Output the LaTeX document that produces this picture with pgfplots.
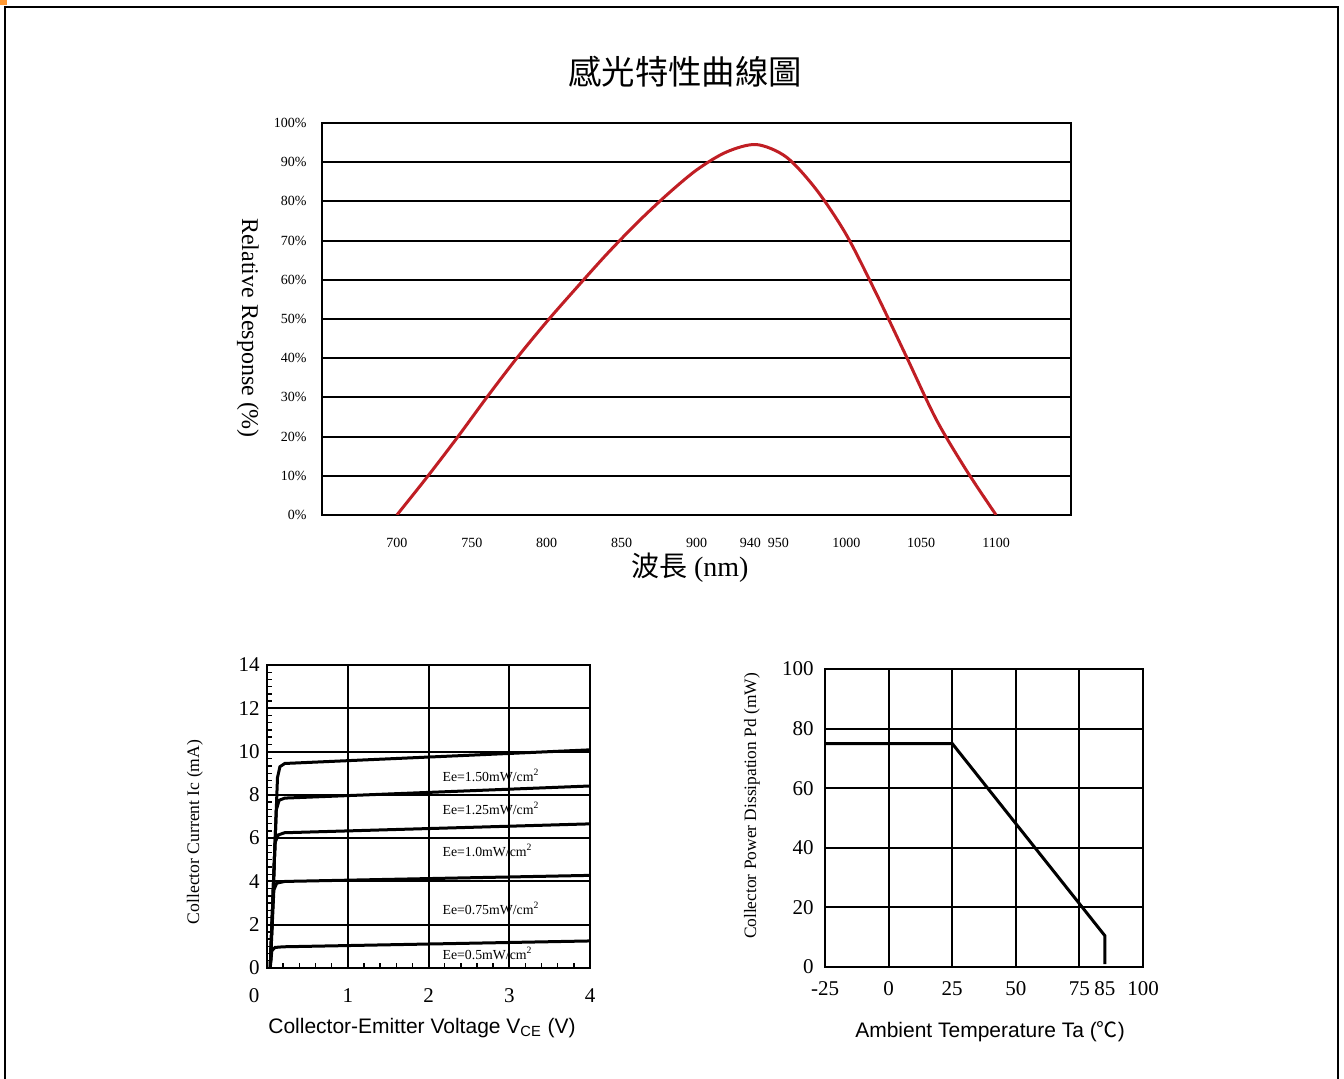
\documentclass[border=0pt]{standalone}
\usepackage{pgfplots}
\pgfplotsset{compat=1.18}
\usepackage{fontspec}
\setmainfont{Liberation Serif}
\newfontfamily\cjk{Noto Sans CJK TC}
\newfontfamily\arial{Liberation Sans}
\definecolor{curvered}{RGB}{192,30,36}
\begin{document}
\begin{tikzpicture}
\useasboundingbox (0,0) rectangle (672pt,-539.5pt);
\fill[orange!80] (0,0) rectangle (3.5pt,-2.5pt);
\draw[line width=1pt] (2.4pt,-540pt) -- (2.4pt,-3.4pt) -- (668.8pt,-3.4pt) -- (668.8pt,-540pt);

% ---------------- top chart ----------------
\begin{axis}[
  at={(161pt,-257.5pt)}, anchor=south west, scale only axis,
  width=374.5pt, height=196pt,
  xmin=650, xmax=1150, ymin=0, ymax=100,
  axis line style={line width=1.2pt},
  ymajorgrids, grid style={line width=1pt, black},
  xtick={700,750,800,850,900,940,950,1000,1050,1100},
  xticklabels={700,750,800,850,900,\kern-3pt940\kern3pt,\kern3.5pt950\kern-3.5pt,1000,1050,1100},
  ytick={0,10,20,30,40,50,60,70,80,90,100},
  yticklabels={0\%,10\%,20\%,30\%,40\%,50\%,60\%,70\%,80\%,90\%,100\%},
  major tick length=0pt,
  /pgf/number format/assume math mode=true,
  tick label style={font=\fontsize{7}{8}\selectfont},
  xticklabel style={anchor=center, yshift=-14pt},
  yticklabel style={anchor=east, inner sep=0pt, xshift=-7.5pt},
  title={\cjk 感光特性曲線圖},
  title style={at={(axis description cs:0.485,1.10)}, anchor=center, font=\fontsize{16.7}{19}\selectfont},
  xlabel={{\cjk 波長} (nm)},
  xlabel style={at={(axis description cs:0.491,-0.135)}, anchor=center, font=\fontsize{14}{16}\selectfont},
  ylabel={Relative Response (\%)},
  ylabel style={at={(axis description cs:-0.0988,0.477)}, anchor=center, rotate=180, font=\fontsize{12}{14}\selectfont},
]
\addplot[curvered, line width=1.5pt, smooth] coordinates {
 (700,0) (720,9.6) (740,19.6) (760,30) (780,40) (800,49.3) (820,58) (840,66.5)
 (860,74.4) (880,81.6) (900,88) (920,92.6) (940,94.5) (960,91.3) (980,83)
 (1000,71.5) (1020,56.5) (1040,40.5) (1060,24.4) (1080,11.5) (1100,0)
};
\end{axis}

% ---------------- bottom-left chart ----------------
\begin{axis}[
  at={(133.5pt,-484pt)}, anchor=south west, scale only axis,
  width=161.5pt, height=151.5pt,
  xmin=0, xmax=4, ymin=0, ymax=14,
  xtick={0,1,2,3,4},
  xticklabels={\kern-6.5pt0\kern6.5pt,1,2,3,4},
  ytick={0,2,4,6,8,10,12,14},
  grid=major, grid style={line width=1pt, black},
  axis line style={line width=1.4pt},
  minor x tick num=4, minor y tick num=5,
  major tick length=0pt, minor tick length=2.5pt,
  minor tick style={line width=0.7pt, black},
  tick align=inside, xtick pos=bottom, ytick pos=left,
  /pgf/number format/assume math mode=true,
  tick label style={font=\fontsize{10.5}{12}\selectfont},
  xticklabel style={anchor=center, yshift=-14pt},
  yticklabel style={anchor=east, inner sep=0pt, xshift=-3.5pt},
  xlabel={\arial Collector-Emitter Voltage V\textsubscript{CE} (V)},
  xlabel style={at={(axis description cs:0.48,-0.198)}, anchor=center, font=\fontsize{10.5}{12}\selectfont},
  ylabel={Collector Current Ic (mA)},
  ylabel style={at={(axis description cs:-0.223,0.449)}, anchor=center, font=\fontsize{8.8}{10}\selectfont},
]
\addplot[black, line width=1.5pt] coordinates {(0.04,0) (0.13,8.8) (0.16,9.3) (0.22,9.45) (4,10.08)};
\addplot[black, line width=1.5pt] coordinates {(0.04,0) (0.115,7.3) (0.15,7.75) (0.22,7.85) (4,8.41)};
\addplot[black, line width=1.5pt] coordinates {(0.04,0) (0.10,5.8) (0.14,6.15) (0.22,6.25) (4,6.66)};
\addplot[black, line width=1.5pt] coordinates {(0.04,0) (0.085,3.6) (0.12,3.92) (0.22,4.0) (4,4.28)};
\addplot[black, line width=1.5pt] coordinates {(0.04,0) (0.06,0.8) (0.1,0.95) (0.2,0.98) (4,1.25)};
\node[anchor=west, inner sep=0pt, font=\fontsize{6.9}{8}\selectfont] at (axis cs:2.17,8.92) {Ee=1.50mW/cm\textsuperscript{2}};
\node[anchor=west, inner sep=0pt, font=\fontsize{6.9}{8}\selectfont] at (axis cs:2.17,7.39) {Ee=1.25mW/cm\textsuperscript{2}};
\node[anchor=west, inner sep=0pt, font=\fontsize{6.9}{8}\selectfont] at (axis cs:2.17,5.45) {Ee=1.0mW/cm\textsuperscript{2}};
\node[anchor=west, inner sep=0pt, font=\fontsize{6.9}{8}\selectfont] at (axis cs:2.17,2.77) {Ee=0.75mW/cm\textsuperscript{2}};
\node[anchor=west, inner sep=0pt, font=\fontsize{6.9}{8}\selectfont] at (axis cs:2.17,0.69) {Ee=0.5mW/cm\textsuperscript{2}};
\end{axis}

% ---------------- bottom-right chart ----------------
\begin{axis}[
  at={(412.5pt,-483.5pt)}, anchor=south west, scale only axis,
  width=159pt, height=149pt,
  xmin=-25, xmax=100, ymin=0, ymax=100,
  xtick={-25,0,25,50,75,100},
  extra x ticks={85}, extra x tick style={grid=none},
  ytick={0,20,40,60,80,100},
  grid=major, grid style={line width=1pt, black},
  axis line style={line width=1.4pt},
  major tick length=0pt,
  /pgf/number format/assume math mode=true,
  tick label style={font=\fontsize{10.5}{12}\selectfont},
  xticklabel style={anchor=center, yshift=-11pt},
  yticklabel style={anchor=east, inner sep=0pt, xshift=-5.5pt},
  xlabel={\arial Ambient Temperature Ta ({\cjk ℃})},
  xlabel style={at={(axis description cs:0.519,-0.218)}, anchor=center, font=\fontsize{10.5}{12}\selectfont},
  ylabel={Collector Power Dissipation Pd (mW)},
  ylabel style={at={(axis description cs:-0.23,0.54)}, anchor=center, font=\fontsize{8.7}{10}\selectfont},
]
\addplot[black, line width=1.5pt] coordinates {(-25,75) (25,75) (85,10.5) (85,1)};
\end{axis}
\end{tikzpicture}
\end{document}
